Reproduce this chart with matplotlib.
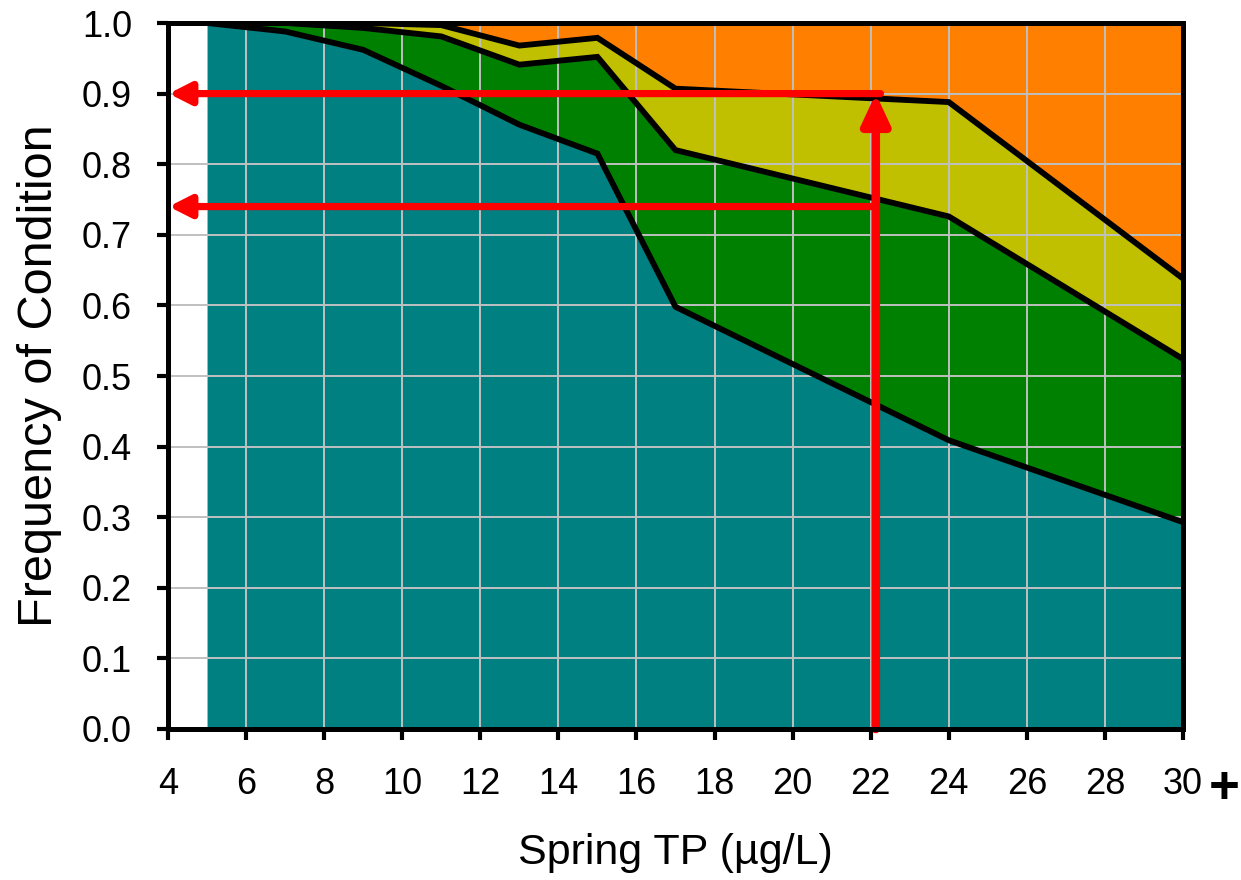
import matplotlib
matplotlib.use("Agg")
import matplotlib.pyplot as plt

plt.rcParams['font.family'] = ['Liberation Sans', 'DejaVu Sans']

# Spring TP (ug/L) sample points
tp = [5, 7, 9, 11, 13, 15, 17, 24, 30]
# cumulative frequency boundaries
teal_top = [1.0, 0.988, 0.962, 0.911, 0.856, 0.815, 0.598, 0.409, 0.293]
green_top = [1.0, 1.0, 0.993, 0.981, 0.941, 0.952, 0.820, 0.726, 0.524]
yellow_top = [1.0, 1.0, 1.0, 0.997, 0.968, 0.979, 0.907, 0.888, 0.638]

x_ticks = [4, 6, 8, 10, 12, 14, 16, 18, 20, 22, 24, 26, 28, 30]
y_ticks = [0.0, 0.1, 0.2, 0.3, 0.4, 0.5, 0.6, 0.7, 0.8, 0.9, 1.0]

# reading example (red arrows)
example_tp = 22.13
example_levels = [0.90, 0.74]

c_teal = '#008080'
c_green = '#008000'
c_yellow = '#C0C000'
c_orange = '#FF8000'

fig = plt.figure(figsize=(12.41, 8.8), dpi=100)
ax = fig.add_axes([168/1241, 1-729/880, (1183-168)/1241, (729-23)/880])

zero = [0]*len(tp)
one = [1]*len(tp)
ax.fill_between(tp, zero, teal_top, color=c_teal, lw=0, zorder=1)
ax.fill_between(tp, teal_top, green_top, color=c_green, lw=0, zorder=1)
ax.fill_between(tp, green_top, yellow_top, color=c_yellow, lw=0, zorder=1)
ax.fill_between(tp, yellow_top, one, color=c_orange, lw=0, zorder=1)

for b in (teal_top, green_top, yellow_top):
    ax.plot(tp, b, color='black', lw=4.2, zorder=3, solid_joinstyle='miter')

ax.set_xlim(4, 30)
ax.set_ylim(0, 1)
ax.set_xticks(x_ticks)
ax.set_yticks(y_ticks)
ax.set_yticklabels([f'{v:.1f}' for v in y_ticks])
ax.grid(True, color='#c0c0c0', lw=1.4, zorder=2)
ax.set_axisbelow(False)
for gl in ax.get_xgridlines() + ax.get_ygridlines():
    gl.set_zorder(2)

for s in ax.spines.values():
    s.set_linewidth(3.6)
    s.set_zorder(6)
ax.tick_params(direction='out', length=8, width=3, labelsize=26, colors='black')
ax.tick_params(axis='y', pad=18)
ax.tick_params(axis='x', pad=19)

# red arrows
ax.annotate('', xy=(example_tp, example_levels[0]), xytext=(example_tp, 0),
            arrowprops=dict(arrowstyle='-|>,head_length=0.9,head_width=0.42',
                            color='#FF0000', lw=6.2, shrinkA=0, shrinkB=0,
                            mutation_scale=20), zorder=5)
for i, lvl in enumerate(example_levels):
    start = example_tp + (0.12 if i == 0 else 0)
    ax.annotate('', xy=(4.02, lvl), xytext=(start, lvl),
                arrowprops=dict(arrowstyle='-|>,head_length=0.65,head_width=0.33',
                                color='#FF0000', lw=5.2, shrinkA=0, shrinkB=0,
                                mutation_scale=20), zorder=5,
                annotation_clip=False)

ax.set_xlabel('Spring TP (µg/L)', fontsize=31, labelpad=23)
ax.set_ylabel('Frequency of Condition', fontsize=35, labelpad=14)

fig.text(1224/1241, 1-789/880, '+', fontsize=38, fontweight='bold',
         ha='center', va='center')

fig.savefig('out.png', dpi=100)
